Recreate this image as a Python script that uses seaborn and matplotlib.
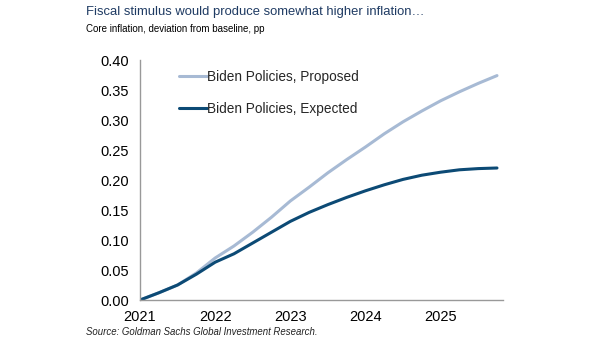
import matplotlib
matplotlib.use("Agg")
import matplotlib.pyplot as plt
import seaborn as sns
import pandas as pd
import numpy as np

quarters = [2021.0 + 0.25 * i for i in range(20)]
proposed = [0.000, 0.012, 0.025, 0.045, 0.070, 0.090, 0.113, 0.138, 0.165, 0.188,
            0.212, 0.234, 0.255, 0.277, 0.297, 0.315, 0.332, 0.347, 0.361, 0.374]
expected = [0.000, 0.012, 0.025, 0.043, 0.063, 0.077, 0.095, 0.113, 0.131, 0.146,
            0.159, 0.171, 0.182, 0.192, 0.201, 0.208, 0.213, 0.217, 0.219, 0.220]
series_names = ["Biden Policies, Proposed", "Biden Policies, Expected"]
x_ticks = [2021, 2022, 2023, 2024, 2025]
y_ticks = [0.00, 0.05, 0.10, 0.15, 0.20, 0.25, 0.30, 0.35, 0.40]

df = pd.DataFrame({
    "t": quarters * 2,
    "v": proposed + expected,
    "s": [series_names[0]] * len(quarters) + [series_names[1]] * len(quarters),
})

sns.set_style("white")
plt.rcParams["font.family"] = ["Liberation Sans", "DejaVu Sans"]

fig = plt.figure(figsize=(6.05, 3.41), dpi=100)
ax = fig.add_axes([140 / 605, 41 / 341, 363 / 605, 240 / 341])

palette = {series_names[0]: "#a7bad4", series_names[1]: "#0c4a75"}
sns.lineplot(data=df, x="t", y="v", hue="s", palette=palette, linewidth=2.2, ax=ax,
             hue_order=series_names)

ax.set_xlim(2021, 2025.83)
ax.set_ylim(0, 0.40)
ax.set_xticks(x_ticks)
ax.set_xticklabels([str(x) for x in x_ticks])
ax.set_yticks(y_ticks)
ax.set_yticklabels([f"{y:.2f}" for y in y_ticks])
ax.set_xlabel("")
ax.set_ylabel("")
for s in ["top", "right"]:
    ax.spines[s].set_visible(False)
for s in ["left", "bottom"]:
    ax.spines[s].set_color("#999999")
    ax.spines[s].set_linewidth(1.0)
ax.tick_params(axis="both", which="major", length=4, width=1, color="#999999",
               labelsize=10.5, labelcolor="black", direction="out")
ax.tick_params(axis="x", pad=3)
ax.tick_params(axis="y", pad=4)

leg = ax.legend(loc="upper left", bbox_to_anchor=(0.075, 1.01), frameon=False,
                fontsize=9.8, handlelength=2.0, handletextpad=0.05, labelspacing=1.3)
for h in leg.legend_handles:
    h.set_linewidth(2.2)

fig.text(86 / 605, 1 - 12 / 341, "Fiscal stimulus would produce somewhat higher inflation\u2026",
         fontsize=9.4, color="#1f3b63", va="center", ha="left")
fig.text(86 / 605, 1 - 29 / 341, "Core inflation, deviation from baseline, pp",
         fontsize=7.0, color="black", va="center", ha="left")
fig.text(86 / 605, 1 - 332 / 341, "Source: Goldman Sachs Global Investment Research.",
         fontsize=6.9, color="#222222", va="center", ha="left", style="italic")

fig.savefig("out.png", dpi=100)
